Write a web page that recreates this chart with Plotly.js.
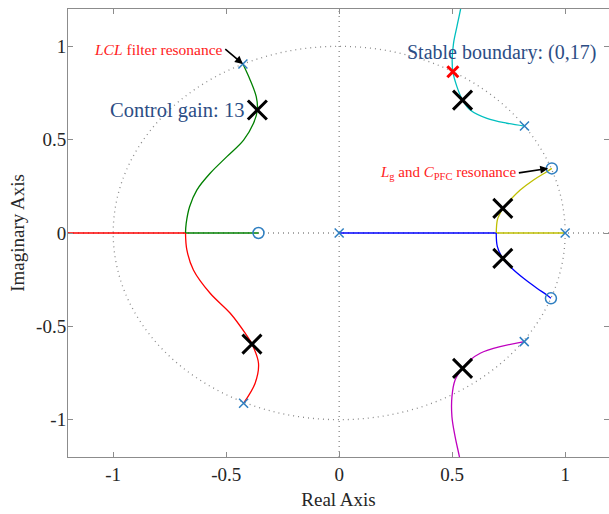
<!DOCTYPE html>
<html>
<head>
<meta charset="utf-8">
<script src="https://cdn.plot.ly/plotly-3.0.1.min.js"></script>
<style>html,body{margin:0;padding:0;background:#fff;}#chart{width:609px;height:514px;}</style>
</head>
<body>
<div id="chart"></div>
<script>
// Root locus branches
const greenX = [-0.426, -0.394, -0.367, -0.362, -0.379, -0.423, -0.497, -0.571, -0.630, -0.662, -0.677, -0.680];
const greenY = [0.905, 0.820, 0.730, 0.659, 0.588, 0.498, 0.409, 0.320, 0.230, 0.141, 0.052, 0.0];
const greenAxisX = [-0.680, -0.357];
const greenAxisY = [0, 0];

const redX = [-0.423, -0.372, -0.357, -0.386, -0.416, -0.482, -0.571, -0.645, -0.674, -0.680];
const redY = [-0.912, -0.805, -0.698, -0.595, -0.537, -0.430, -0.323, -0.198, -0.091, 0.0];
const redAxisX = [-0.680, -1.4];
const redAxisY = [0, 0];

const cyanX = [0.820, 0.742, 0.654, 0.580, 0.546, 0.521, 0.503, 0.500, 0.506, 0.521, 0.538, 0.545];
const cyanY = [0.573, 0.588, 0.614, 0.659, 0.712, 0.784, 0.864, 0.927, 1.016, 1.105, 1.204, 1.25];

const magentaX = [0.819, 0.712, 0.624, 0.580, 0.546, 0.513, 0.499, 0.499, 0.513, 0.532, 0.540];
const magentaY = [-0.582, -0.609, -0.644, -0.680, -0.725, -0.787, -0.877, -0.984, -1.091, -1.198, -1.25];

const yellowX = [0.695, 0.700, 0.712, 0.724, 0.757, 0.801, 0.860, 0.912, 0.941];
const yellowY = [0.0, 0.070, 0.105, 0.132, 0.177, 0.230, 0.284, 0.323, 0.346];
const yellowAxisX = [1.0, 0.695];
const yellowAxisY = [0, 0];

const blueX = [0.695, 0.700, 0.724, 0.764, 0.816, 0.875, 0.919, 0.937];
const blueY = [0.0, -0.073, -0.136, -0.189, -0.243, -0.296, -0.332, -0.350];
const blueAxisX = [0.0, 0.695];
const blueAxisY = [0, 0];

// Poles, zeros, gain markers
const poleX = [-0.426, -0.423, 0.0, 1.0, 0.820, 0.819];
const poleY = [0.905, -0.912, 0.0, 0.0, 0.573, -0.582];
const zeroX = [-0.357, 0.941, 0.937];
const zeroY = [0.0, 0.346, -0.350];
const gainX = [-0.362, -0.386, 0.546, 0.546, 0.724, 0.724];
const gainY = [0.659, -0.595, 0.712, -0.725, 0.132, -0.136];
const boundaryX = [0.503];
const boundaryY = [0.864];

const xTicks = [-1, -0.5, 0, 0.5, 1];
const yTicks = [-1, -0.5, 0, 0.5, 1];

const serif = 'Liberation Serif, Times New Roman, serif';

function line(x, y, color, spline) {
  return {x: x, y: y, type: 'scatter', mode: 'lines', hoverinfo: 'skip',
          line: {color: color, width: 1.3, shape: spline ? 'spline' : 'linear', smoothing: 1}};
}

const traces = [
  line(redAxisX, redAxisY, '#ff0000', false),
  line(greenAxisX, greenAxisY, '#008000', false),
  line(yellowAxisX, yellowAxisY, '#bfbf00', false),
  line(blueAxisX, blueAxisY, '#0000ff', false),
  line(greenX, greenY, '#008000', true),
  line(redX, redY, '#ff0000', true),
  line(cyanX, cyanY, '#00bfbf', true),
  line(magentaX, magentaY, '#bf00bf', true),
  line(yellowX, yellowY, '#bfbf00', true),
  line(blueX, blueY, '#0000ff', true),
  {x: poleX, y: poleY, type: 'scatter', mode: 'markers', hoverinfo: 'skip',
   marker: {symbol: 'x-thin-open', size: 9, color: '#2f7fc1', line: {color: '#2f7fc1', width: 1.5}}},
  {x: zeroX, y: zeroY, type: 'scatter', mode: 'markers', hoverinfo: 'skip',
   marker: {symbol: 'circle-open', size: 11, color: '#2f7fc1', line: {color: '#2f7fc1', width: 1.5}}},
  {x: gainX, y: gainY, type: 'scatter', mode: 'markers', hoverinfo: 'skip',
   marker: {symbol: 'x-thin-open', size: 19, color: '#000000', line: {color: '#000000', width: 3}}},
  {x: boundaryX, y: boundaryY, type: 'scatter', mode: 'markers', hoverinfo: 'skip',
   marker: {symbol: 'x-thin-open', size: 11, color: '#ff0000', line: {color: '#ff0000', width: 3}}}
];

const axisCommon = {
  showgrid: false, zeroline: false, showline: true, linecolor: '#8c8c8c', linewidth: 1,
  mirror: 'ticks', ticks: 'inside', ticklen: 5, tickwidth: 1, tickcolor: '#8c8c8c',
  tickfont: {family: serif, size: 19, color: '#262626'}, tickmode: 'array'
};

const layout = {
  width: 609, height: 514,
  margin: {l: 68, r: 0, t: 9, b: 57},
  paper_bgcolor: '#ffffff', plot_bgcolor: '#ffffff',
  showlegend: false,
  xaxis: Object.assign({}, axisCommon, {range: [-1.2, 1.194], tickvals: xTicks, ticktext: xTicks.map(String),
    title: {text: 'Real Axis', font: {family: serif, size: 19, color: '#262626'}, standoff: 8}}),
  yaxis: Object.assign({}, axisCommon, {range: [-1.2, 1.2], tickvals: yTicks, ticktext: yTicks.map(String),
    ticklabelstandoff: -3,
    title: {text: 'Imaginary Axis', font: {family: serif, size: 19, color: '#262626'}, standoff: 6}}),
  shapes: [
    {type: 'circle', xref: 'x', yref: 'y', x0: -1, x1: 1, y0: -1, y1: 1, layer: 'below',
     line: {color: '#8a8a8a', width: 1.3, dash: '1px,4px'}},
    {type: 'line', xref: 'x', yref: 'paper', x0: 0, x1: 0, y0: 0, y1: 1, layer: 'below',
     line: {color: '#8a8a8a', width: 1.3, dash: '1px,4px'}},
    {type: 'line', xref: 'paper', yref: 'y', x0: 0, x1: 1, y0: 0, y1: 0, layer: 'below',
     line: {color: '#8a8a8a', width: 1.3, dash: '1px,4px'}}
  ],
  annotations: [
    {text: '<i>LCL</i> filter resonance', xref: 'x', yref: 'y', x: -0.426, y: 0.905,
     axref: 'x', ayref: 'y', ax: -0.504, ay: 0.985, xanchor: 'right', yanchor: 'middle',
     showarrow: true, arrowhead: 2, arrowsize: 1, arrowwidth: 1.6, arrowcolor: '#000000',
     font: {family: serif, size: 15.5, color: '#ff1a1a'}},
    {text: 'Control gain: 13', xref: 'x', yref: 'y', x: -0.718, y: 0.655, showarrow: false,
     font: {family: serif, size: 20.5, color: '#2c4d85'}},
    {text: 'Stable boundary: (0,17)', xref: 'x', yref: 'y', x: 0.72, y: 0.965, showarrow: false,
     font: {family: serif, size: 20, color: '#2c4d85'}},
    {text: '<i>L</i><sub>g</sub> and <i>C</i><sub>PFC</sub> resonance', xref: 'x', yref: 'y', x: 0.925, y: 0.346,
     axref: 'x', ayref: 'y', ax: 0.795, ay: 0.322, xanchor: 'right', yanchor: 'middle',
     showarrow: true, arrowhead: 2, arrowsize: 1, arrowwidth: 1.6, arrowcolor: '#000000',
     font: {family: serif, size: 15, color: '#ff1a1a'}}
  ]
};

Plotly.newPlot('chart', traces, layout, {staticPlot: true, displayModeBar: false});
</script>
</body>
</html>
